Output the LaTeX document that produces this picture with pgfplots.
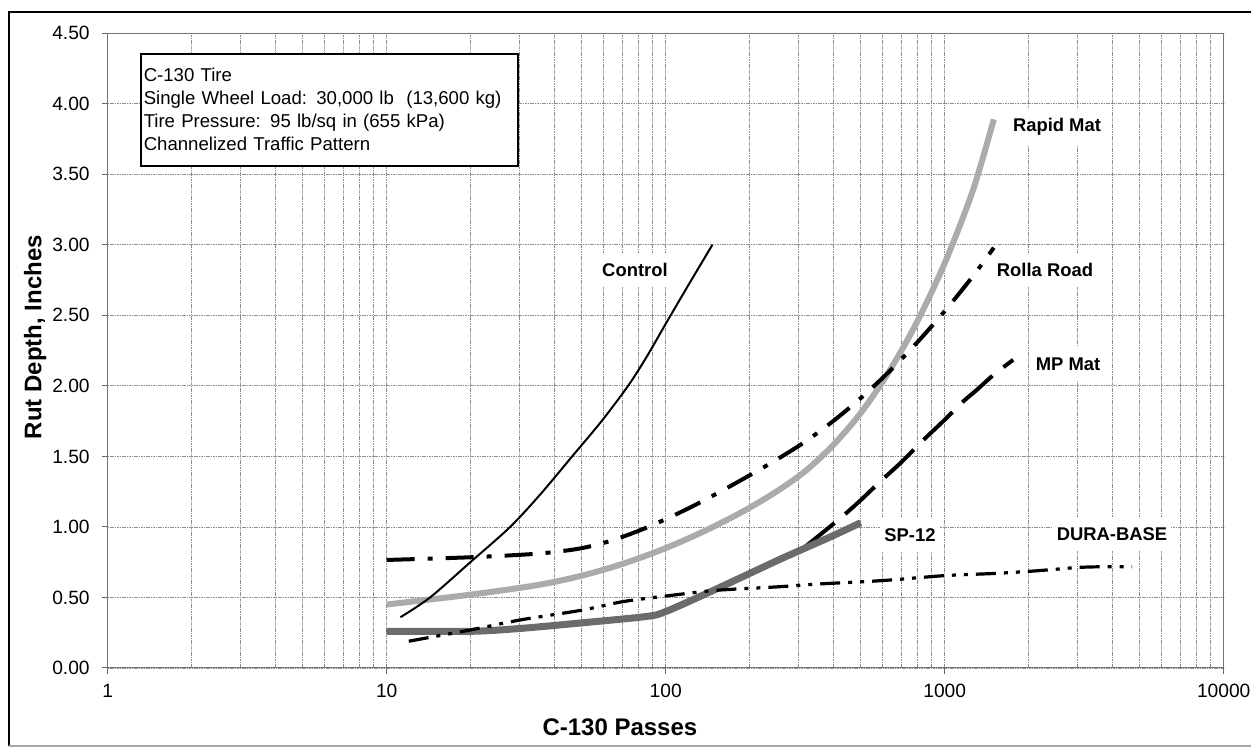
\documentclass[border=0pt]{standalone}
\usepackage{fontspec}
\setmainfont{Liberation Sans}
\usepackage{pgfplots}
\pgfplotsset{compat=1.18}
\begin{document}
\begin{tikzpicture}
\path[use as bounding box] (-53.85pt,-40.5pt) rectangle (573.15pt,334pt);
\begin{axis}[
  at={(0pt,0pt)}, anchor=south west,
  scale only axis, width=558pt, height=317.35pt,
  xmode=log, log basis x=10,
  xmin=1, xmax=10000, ymin=0, ymax=4.5,
  xtick={1,10,100,1000,10000},
  xticklabels={1,10,100,1000,10000},
  minor xtick={2,3,4,5,6,7,8,9,20,30,40,50,60,70,80,90,200,300,400,500,600,700,800,900,2000,3000,4000,5000,6000,7000,8000,9000},
  ytick={0,0.5,1,1.5,2,2.5,3,3.5,4,4.5},
  yticklabels={0.00,0.50,1.00,1.50,2.00,2.50,3.00,3.50,4.00,4.50},
  tick pos=left,
  tick align=outside,
  major tick length=3pt, minor tick length=0pt,
  tick style={black!60, line width=0.5pt},
  axis line style={black!55, line width=0.5pt},
  grid=both,
  major grid style={black!45, line width=0.45pt, dash pattern=on 0.8pt off 0.4pt},
  minor grid style={black!45, line width=0.45pt, dash pattern=on 0.8pt off 0.4pt},
  ticklabel style={font=\fontsize{9.6}{11}\selectfont},
  yticklabel style={xshift=-2.5pt},
  xticklabel style={yshift=-1.5pt},
  xlabel={C-130 Passes},
  ylabel={Rut Depth, Inches},
  every axis x label/.style={at={(axis description cs:0.459,-0.093)}, anchor=center, font=\bfseries\fontsize{12}{14}\selectfont},
  every axis y label/.style={at={(axis description cs:-0.065,0.5215)}, anchor=center, rotate=90, font=\bfseries\fontsize{12}{14}\selectfont},
  clip=false,
]
% Rapid Mat
\addplot[black!33, line width=3pt, smooth, tension=0.5] coordinates {
 (10,0.45) (19.95,0.52) (31.62,0.575) (39.81,0.61) (50.12,0.655) (63.1,0.71) (79.43,0.775) (100,0.85) (125.9,0.935) (158.5,1.03) (199.5,1.135) (251.2,1.255) (316.2,1.395) (398.1,1.58) (501.2,1.81) (631,2.10) (794.3,2.45) (1000,2.87) (1259,3.38) (1500,3.89)};
% MP Mat
\addplot[black, line width=2pt, dash pattern=on 20pt off 7pt, smooth, tension=0.5] coordinates {
 (10,0.26) (20,0.26) (30,0.28) (50,0.32) (85,0.365) (100,0.40) (150,0.555) (250,0.76) (300,0.83) (350,0.93) (433,1.08) (500,1.19) (586,1.32) (700,1.46) (838,1.615) (1000,1.76) (1166,1.89) (1300,1.97) (1500,2.08) (1760,2.185)};
% SP-12
\addplot[black!58, line width=3.5pt, smooth, tension=0.5] coordinates {
 (10,0.26) (20,0.26) (30,0.28) (50,0.32) (85,0.365) (100,0.40) (150,0.555) (250,0.76) (300,0.83) (400,0.94) (500,1.03)};
% DURA-BASE
\addplot[black, line width=1.6pt, dash pattern=on 10pt off 4pt on 2pt off 4pt on 2pt off 4pt, smooth, tension=0.5] coordinates {
 (12,0.19) (20,0.27) (30,0.34) (50,0.41) (70,0.47) (100,0.51) (150,0.55) (250,0.575) (350,0.595) (600,0.62) (1000,0.655) (1500,0.67) (2000,0.685) (2500,0.70) (3000,0.713) (3700,0.718) (4700,0.718)};
% Rolla Road
\addplot[black, line width=2pt, dash pattern=on 14pt off 6.5pt on 2.5pt off 6.5pt, smooth, tension=0.5] coordinates {
 (10,0.766) (19.95,0.785) (31.62,0.805) (39.81,0.822) (50.12,0.85) (63.1,0.90) (79.43,0.97) (100,1.055) (125.9,1.15) (158.5,1.255) (199.5,1.365) (251.2,1.48) (316.2,1.605) (398.1,1.75) (501.2,1.915) (631,2.10) (794.3,2.305) (1000,2.53) (1259,2.775) (1500,2.98)};
% Control
\addplot[black, line width=1pt, smooth, tension=0.5] coordinates {
 (11.2,0.36) (14.3,0.5) (19.95,0.75) (27.7,1.0) (35.5,1.23) (46.2,1.5) (58.9,1.75) (73.3,2.0) (85.1,2.2) (100,2.44) (120.2,2.71) (147,3.0)};
% labels
\tikzset{lbl/.style={fill=white, inner xsep=2pt, inner ysep=5pt, font=\bfseries\fontsize{9.2}{11}\selectfont}}
\node[lbl] at (axis cs:77.6,2.823) {Control};
\node[lbl] at (axis cs:2526,3.837) {Rapid Mat};
\node[lbl] at (axis cs:2288,2.823) {Rolla Road};
\node[lbl] at (axis cs:2767,2.156) {MP Mat};
\node[lbl] at (axis cs:751,0.943) {SP-12};
\node[lbl] at (axis cs:3978,0.950) {DURA-BASE};
\node[anchor=north west, draw=black, line width=0.8pt, fill=white, inner xsep=1.5pt, inner ysep=5pt, text width=185.5pt, minimum height=56pt, align=left, font=\fontsize{9.3}{11.5}\selectfont] at (rel axis cs:0.0289,0.969)
 {C-130 Tire\\Single Wheel Load: 30,000 lb\ \ (13,600 kg)\\Tire Pressure: 95 lb/sq in (655 kPa)\\Channelized Traffic Pattern};
\end{axis}
\draw[line width=1.2pt] (571.65pt,328pt) -- (-49.35pt,328pt) -- (-49.35pt,-39pt);
\draw[black!35, line width=0.6pt] (-49.35pt,-39pt) -- (571.65pt,-39pt);
\end{tikzpicture}
\end{document}
